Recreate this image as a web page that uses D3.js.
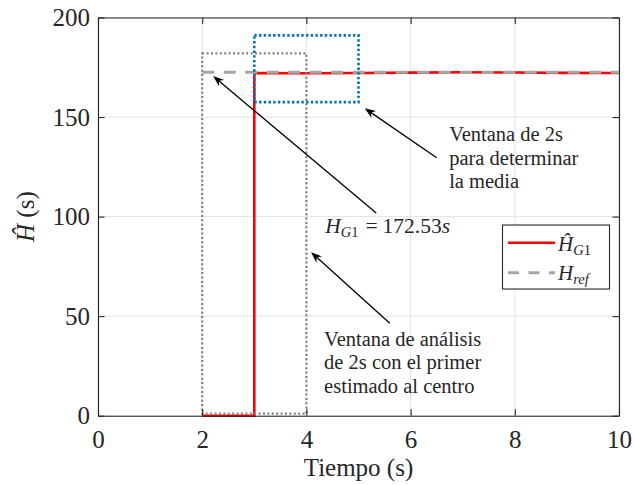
<!DOCTYPE html>
<html>
<head>
<meta charset="utf-8">
<script src="https://cdn.jsdelivr.net/npm/d3@7"></script>
<style>
  html, body { margin: 0; padding: 0; background: #fff; }
  svg { display: block; }
  text { font-family: "Liberation Serif", "Times New Roman", serif; fill: #262626; }
</style>
</head>
<body>
<svg id="chart" width="634" height="485"></svg>
<script>
// Axis ticks
const xTicks = [0, 2, 4, 6, 8, 10];
const yTicks = [0, 50, 100, 150, 200];

// Estimated inertia constant over time (0 before the first estimate)
const tiempo = [2, 3, 3, 4, 5, 6, 7, 8, 9, 10];
const hG1    = [0, 0, 172.1, 172.0, 172.1, 172.3, 172.5, 172.4, 172.2, 172.1];

// Reference value
const refTiempo = [2, 10];
const hRef = [172.53, 172.53];

// Analysis windows [t0, t1, hLow, hHigh]
const ventanaAnalisis = [2, 4, 1, 182];
const ventanaMedia    = [3, 5, 157.5, 191];

// Annotation arrows (data coordinates: from -> to)
const flechas = [
  { from: [5.34, 101.8], to: [2.21, 170.6] },
  { from: [6.50, 129.6], to: [5.12, 154.4] },
  { from: [5.60, 46.4],  to: [4.09, 82.1] }
];

const textoMedia = ["Ventana de 2s", "para determinar", "la media"];
const textoAnalisis = ["Ventana de análisis", "de 2s con el primer", "estimado al centro"];

const svg = d3.select("#chart");
const L = 98, R = 619, T = 17.5, B = 415.7;
const x = d3.scaleLinear().domain([0, 10]).range([L, R]);
const y = d3.scaleLinear().domain([0, 200]).range([B, T]);

// Grid
const grid = svg.append("g").attr("stroke", "#e3e3e3").attr("stroke-width", 1);
grid.selectAll(".gx").data(xTicks).join("line")
  .attr("x1", d => x(d)).attr("x2", d => x(d)).attr("y1", T).attr("y2", B);
grid.selectAll(".gy").data(yTicks).join("line")
  .attr("y1", d => y(d)).attr("y2", d => y(d)).attr("x1", L).attr("x2", R);

// Estimate line
const line = d3.line().x(d => x(d[0])).y(d => y(d[1]));
svg.append("path")
  .datum(tiempo.map((t, i) => [t, hG1[i]]))
  .attr("d", line).attr("fill", "none")
  .attr("stroke", "#ff0000").attr("stroke-width", 2.6);

// Reference dashed line
svg.append("path")
  .datum(refTiempo.map((t, i) => [t, hRef[i]]))
  .attr("d", line).attr("fill", "none")
  .attr("stroke", "#a6a6a6").attr("stroke-width", 3)
  .attr("stroke-dasharray", "12,9.5");

// Window boxes
function ventana(v, color, w, dash) {
  svg.append("rect")
    .attr("x", x(v[0])).attr("y", y(v[3]))
    .attr("width", x(v[1]) - x(v[0])).attr("height", y(v[2]) - y(v[3]))
    .attr("fill", "none").attr("stroke", color).attr("stroke-width", w)
    .attr("stroke-dasharray", dash);
}
ventana(ventanaAnalisis, "#808080", 2.2, "2,2.4");
ventana(ventanaMedia, "#0072bd", 2.6, "2.4,2.3");

// Axes frame with inward ticks
const tick = 6.5;
const axB = svg.append("g").attr("transform", `translate(0,${B})`)
  .call(d3.axisBottom(x).tickValues(xTicks).tickSizeInner(-tick).tickSizeOuter(0).tickPadding(14.5));
const axT = svg.append("g").attr("transform", `translate(0,${T})`)
  .call(d3.axisTop(x).tickValues(xTicks).tickSizeInner(-tick).tickSizeOuter(0).tickFormat(""));
const axL = svg.append("g").attr("transform", `translate(${L},0)`)
  .call(d3.axisLeft(y).tickValues(yTicks).tickSizeInner(-tick).tickSizeOuter(0).tickPadding(8));
const axR = svg.append("g").attr("transform", `translate(${R},0)`)
  .call(d3.axisRight(y).tickValues(yTicks).tickSizeInner(-tick).tickSizeOuter(0).tickFormat(""));
[axB, axT, axL, axR].forEach(a => {
  a.select(".domain").attr("stroke", "#262626").attr("stroke-width", 1.1);
  a.selectAll(".tick line").attr("stroke", "#262626").attr("stroke-width", 1.1);
  a.selectAll(".tick text").attr("font-family", "Liberation Serif").attr("font-size", 25).attr("fill", "#262626");
});

// Axis labels
svg.append("text").attr("x", (L + R) / 2).attr("y", 476)
  .attr("text-anchor", "middle").attr("font-size", 25).text("Tiempo (s)");
const yl = svg.append("text")
  .attr("transform", `translate(34,${(T + B) / 2}) rotate(-90)`)
  .attr("text-anchor", "middle").attr("font-size", 25);
yl.append("tspan").attr("font-style", "italic").text("Ĥ");
yl.append("tspan").text(" (s)");

// Arrows
const ag = svg.append("g");
flechas.forEach(f => {
  const x1 = x(f.from[0]), y1 = y(f.from[1]), x2 = x(f.to[0]), y2 = y(f.to[1]);
  const ang = Math.atan2(y2 - y1, x2 - x1);
  const len = 11, hw = 4.2, notch = 3.5;
  const ux = Math.cos(ang), uy = Math.sin(ang);
  const bx = x2 - ux * len, by = y2 - uy * len;
  ag.append("line").attr("x1", x1).attr("y1", y1)
    .attr("x2", x2 - ux * 5).attr("y2", y2 - uy * 5)
    .attr("stroke", "#000").attr("stroke-width", 1.3);
  const pts = [
    [x2, y2],
    [bx - uy * hw, by + ux * hw],
    [x2 - ux * (len - notch), y2 - uy * (len - notch)],
    [bx + uy * hw, by - ux * hw]
  ];
  ag.append("polygon").attr("points", pts.map(p => p.join(",")).join(" ")).attr("fill", "#000");
});

// Annotation texts
function bloque(lines, tx, ty) {
  const t = svg.append("text").attr("x", x(tx)).attr("y", y(ty)).attr("font-size", 20.5).attr("fill", "#000");
  lines.forEach((s, i) => t.append("tspan").attr("x", x(tx)).attr("dy", i === 0 ? 0 : 23.4).text(s));
}
bloque(textoMedia, 6.74, 137.9);
bloque(textoAnalisis, 4.34, 35.0);

const hv = svg.append("text").attr("x", x(4.36)).attr("y", y(91.8)).attr("font-size", 21.5).attr("fill", "#000");
hv.append("tspan").attr("font-style", "italic").text("H");
hv.append("tspan").attr("font-style", "italic").attr("font-size", 14.5).attr("dy", 4).text("G");
hv.append("tspan").attr("font-size", 14.5).text("1");
hv.append("tspan").attr("dy", -4).attr("dx", 7).text("=");
hv.append("tspan").attr("dx", 5).text("172.53");
hv.append("tspan").attr("font-style", "italic").text("s");

// Legend
const lg = svg.append("g");
lg.append("rect").attr("x", 502.5).attr("y", 225).attr("width", 107).attr("height", 64)
  .attr("fill", "#fff").attr("stroke", "#262626").attr("stroke-width", 1.1);
lg.append("line").attr("x1", 508).attr("x2", 555).attr("y1", 242.7).attr("y2", 242.7)
  .attr("stroke", "#ff0000").attr("stroke-width", 2.6);
lg.append("line").attr("x1", 508).attr("x2", 555).attr("y1", 272.7).attr("y2", 272.7)
  .attr("stroke", "#a6a6a6").attr("stroke-width", 3).attr("stroke-dasharray", "11,9.5");
const l1 = lg.append("text").attr("x", 558).attr("y", 250.5).attr("font-size", 21).attr("fill", "#000");
l1.append("tspan").attr("font-style", "italic").text("Ĥ");
l1.append("tspan").attr("font-style", "italic").attr("font-size", 14.5).attr("dy", 4).text("G");
l1.append("tspan").attr("font-size", 14.5).text("1");
const l2 = lg.append("text").attr("x", 558).attr("y", 280).attr("font-size", 21).attr("fill", "#000");
l2.append("tspan").attr("font-style", "italic").text("H");
l2.append("tspan").attr("font-style", "italic").attr("font-size", 14.5).attr("dy", 4).text("ref");
</script>
</body>
</html>
